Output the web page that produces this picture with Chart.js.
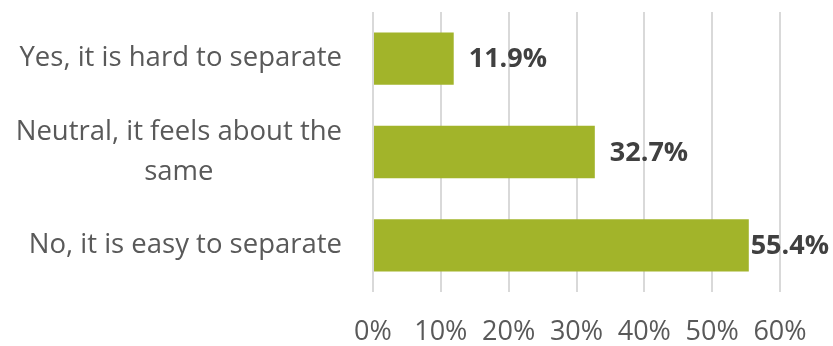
<!DOCTYPE html>
<html>
<head>
<meta charset="utf-8">
<script src="https://cdn.jsdelivr.net/npm/chart.js@4.4.1/dist/chart.umd.min.js"></script>
<style>
  html, body { margin: 0; padding: 0; background: #ffffff; }
  #wrap { width: 833px; height: 346px; position: relative; }
</style>
</head>
<body>
<div id="wrap"><canvas id="chart"></canvas></div>
<script>
// Survey answers and their share of respondents (%)
const categories = [
  'Yes, it is hard to separate',
  ['Neutral, it feels about the', 'same'],
  'No, it is easy to separate'
];
const shares = [11.9, 32.7, 55.4];
const tickValues = [0, 10, 20, 30, 40, 50, 60];

const FONT = '"Open Sans", "DejaVu Sans", sans-serif';
const BAR_COLOR = '#A2B42A';

// Category names drawn right-aligned, with wrapped lines centred on each other
const categoryLabels = {
  id: 'categoryLabels',
  afterDraw(chart) {
    const ctx = chart.ctx;
    const y = chart.scales.y;
    const rightEdge = y.right - 31;
    ctx.save();
    ctx.font = '27.5px ' + FONT;
    ctx.fillStyle = '#595959';
    ctx.textBaseline = 'middle';
    const lineH = 40;
    categories.forEach((lab, i) => {
      const lines = Array.isArray(lab) ? lab : [lab];
      const widths = lines.map(l => ctx.measureText(l).width);
      const maxW = Math.max(...widths);
      const cx = rightEdge - maxW / 2;
      const cy = y.getPixelForValue(i);
      lines.forEach((l, k) => {
        ctx.textAlign = 'center';
        ctx.fillText(l, cx, cy + (k - (lines.length - 1) / 2) * lineH);
      });
    });
    ctx.restore();
  }
};

// Value labels just past each bar end, kept inside the canvas
const valueLabels = {
  id: 'valueLabels',
  afterDatasetsDraw(chart) {
    const ctx = chart.ctx;
    const meta = chart.getDatasetMeta(0);
    ctx.save();
    ctx.font = 'bold 27px ' + FONT;
    ctx.fillStyle = '#404040';
    ctx.textBaseline = 'middle';
    ctx.textAlign = 'left';
    meta.data.forEach((bar, i) => {
      const txt = shares[i].toFixed(1) + '%';
      const w = ctx.measureText(txt).width;
      let x = bar.x + 15;
      if (x + w > chart.width - 4) x = Math.max(bar.x, chart.width - 4 - w);
      ctx.fillText(txt, x, bar.y + 1);
    });
    ctx.restore();
  }
};

new Chart(document.getElementById('chart'), {
  type: 'bar',
  data: {
    labels: categories,
    datasets: [{
      data: shares,
      backgroundColor: BAR_COLOR,
      borderWidth: 0,
      barPercentage: 0.56,
      categoryPercentage: 1.0
    }]
  },
  options: {
    indexAxis: 'y',
    responsive: true,
    maintainAspectRatio: false,
    animation: false,
    layout: { padding: { left: 0, right: 53, top: 12, bottom: 0 } },
    plugins: {
      legend: { display: false },
      tooltip: { enabled: false }
    },
    scales: {
      x: {
        min: 0,
        max: 60,
        afterBuildTicks(scale) {
          scale.ticks = tickValues.map(v => ({ value: v }));
        },
        afterFit(scale) { scale.height = 54; },
        grid: { color: '#D9D9D9', lineWidth: 2, drawTicks: false },
        border: { display: false },
        ticks: {
          padding: 24,
          color: '#595959',
          font: { family: FONT, size: 27 },
          callback: v => v + '%'
        }
      },
      y: {
        afterFit(scale) { scale.width = 373; },
        grid: { display: false },
        border: { display: false },
        ticks: { display: false }
      }
    }
  },
  plugins: [categoryLabels, valueLabels]
});
</script>
</body>
</html>
